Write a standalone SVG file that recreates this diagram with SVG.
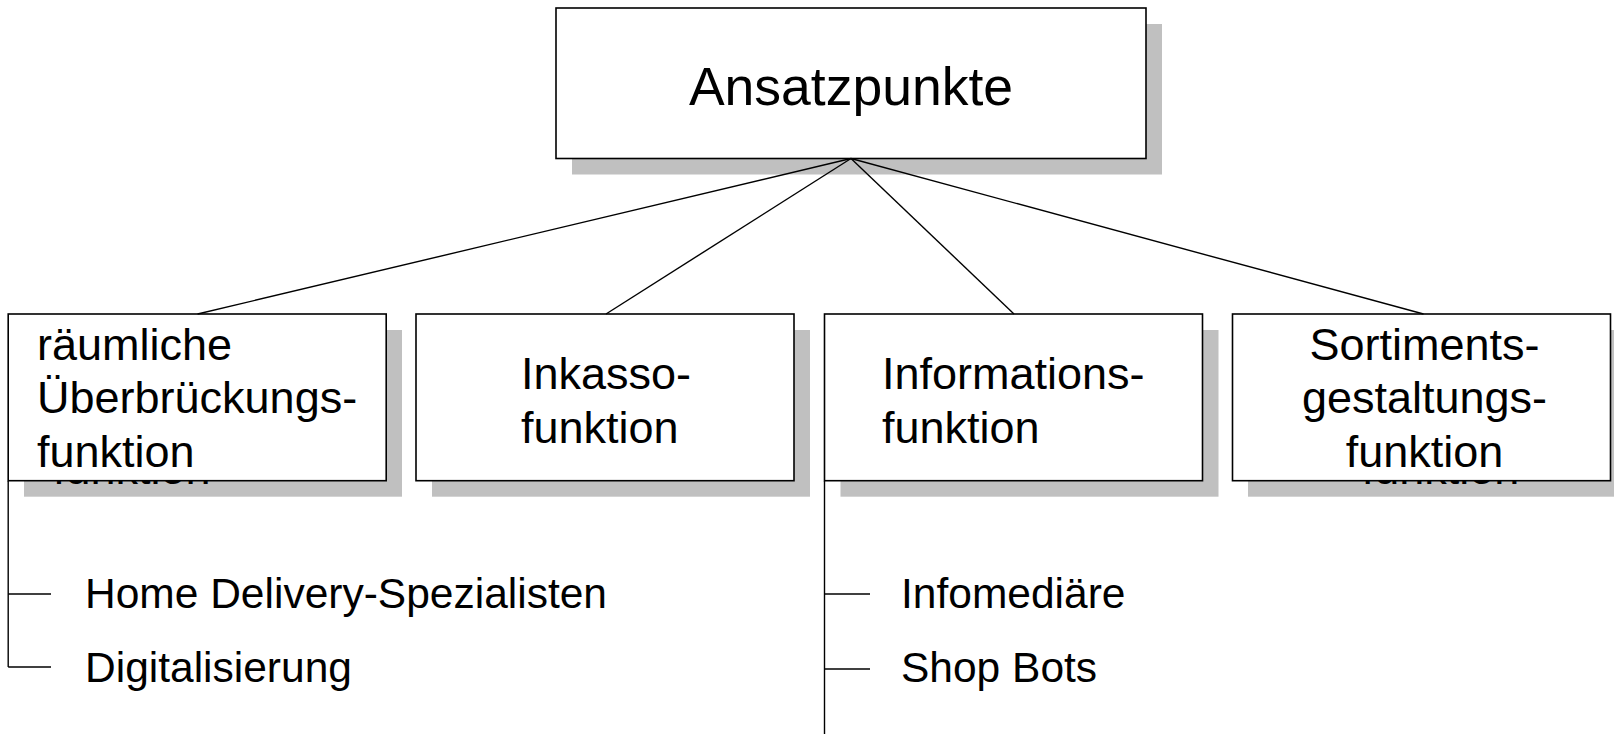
<svg xmlns="http://www.w3.org/2000/svg" width="1614" height="734" viewBox="0 0 1614 734">
<style>
.bg{fill:#ffffff}
.shadow{fill:#c0c0c0}
.shtext{fill:#a4a4a4}
.box{fill:#ffffff;stroke:#000000;stroke-width:1.6}
.t{font-family:"Liberation Sans",Arial,sans-serif;fill:#000000}
.main{font-size:53.5px}
.node{font-size:45px}
.item{font-size:42.5px}
.conn line{stroke:#000000;stroke-width:1.4}
</style>
<rect class="bg" x="0" y="0" width="1614" height="734"/>
<g id="ansatzpunkte">
<rect class="shadow" x="572" y="24" width="590" height="150.5"/>
<rect class="box" x="556" y="8" width="590" height="150.5"/>
<text class="t main" x="851" y="105" text-anchor="middle">Ansatzpunkte</text>
</g>
<g id="raeumliche">
<rect class="shadow" x="24" y="330" width="378" height="166.7"/>
<text class="t node shtext" x="53" y="484">funktion</text>
<rect class="box" x="8.2" y="314" width="378" height="166.7"/>
<text class="t node" x="37" y="360">räumliche</text>
<text class="t node" x="37" y="413">Überbrückungs-</text>
<text class="t node" x="37" y="467">funktion</text>
</g>
<g id="inkasso">
<rect class="shadow" x="432" y="330" width="378" height="166.7"/>
<rect class="box" x="416" y="314" width="378" height="166.7"/>
<text class="t node" x="521" y="389">Inkasso-</text>
<text class="t node" x="521" y="443">funktion</text>
</g>
<g id="information">
<rect class="shadow" x="840.5" y="330" width="378" height="166.7"/>
<rect class="box" x="824.5" y="314" width="378" height="166.7"/>
<text class="t node" x="882" y="389">Informations-</text>
<text class="t node" x="882" y="443">funktion</text>
</g>
<g id="sortiment">
<rect class="shadow" x="1248" y="330" width="378" height="166.7"/>
<text class="t node shtext" x="1440.5" y="484" text-anchor="middle">funktion</text>
<rect class="box" x="1232.5" y="314" width="378" height="166.7"/>
<text class="t node" x="1424.5" y="360" text-anchor="middle">Sortiments-</text>
<text class="t node" x="1424.5" y="413" text-anchor="middle">gestaltungs-</text>
<text class="t node" x="1424.5" y="467" text-anchor="middle">funktion</text>
</g>
<g id="home-delivery"><text class="t item" x="85" y="608">Home Delivery-Spezialisten</text></g>
<g id="digitalisierung"><text class="t item" x="85" y="682">Digitalisierung</text></g>
<g id="infomediaere"><text class="t item" x="901" y="608">Infomediäre</text></g>
<g id="shop-bots"><text class="t item" x="901" y="682">Shop Bots</text></g>
<g id="connectors" class="conn">
<line x1="851" y1="158.5" x2="197.6" y2="314"/>
<line x1="851" y1="158.5" x2="606" y2="314"/>
<line x1="851" y1="158.5" x2="1014" y2="314"/>
<line x1="851" y1="158.5" x2="1423.5" y2="314"/>
<line x1="8.2" y1="481" x2="8.2" y2="667"/>
<line x1="8.2" y1="594" x2="51" y2="594"/>
<line x1="8.2" y1="667" x2="51" y2="667"/>
<line x1="824.5" y1="481" x2="824.5" y2="734"/>
<line x1="824.5" y1="594" x2="870" y2="594"/>
<line x1="824.5" y1="669" x2="870" y2="669"/>
</g>
</svg>
